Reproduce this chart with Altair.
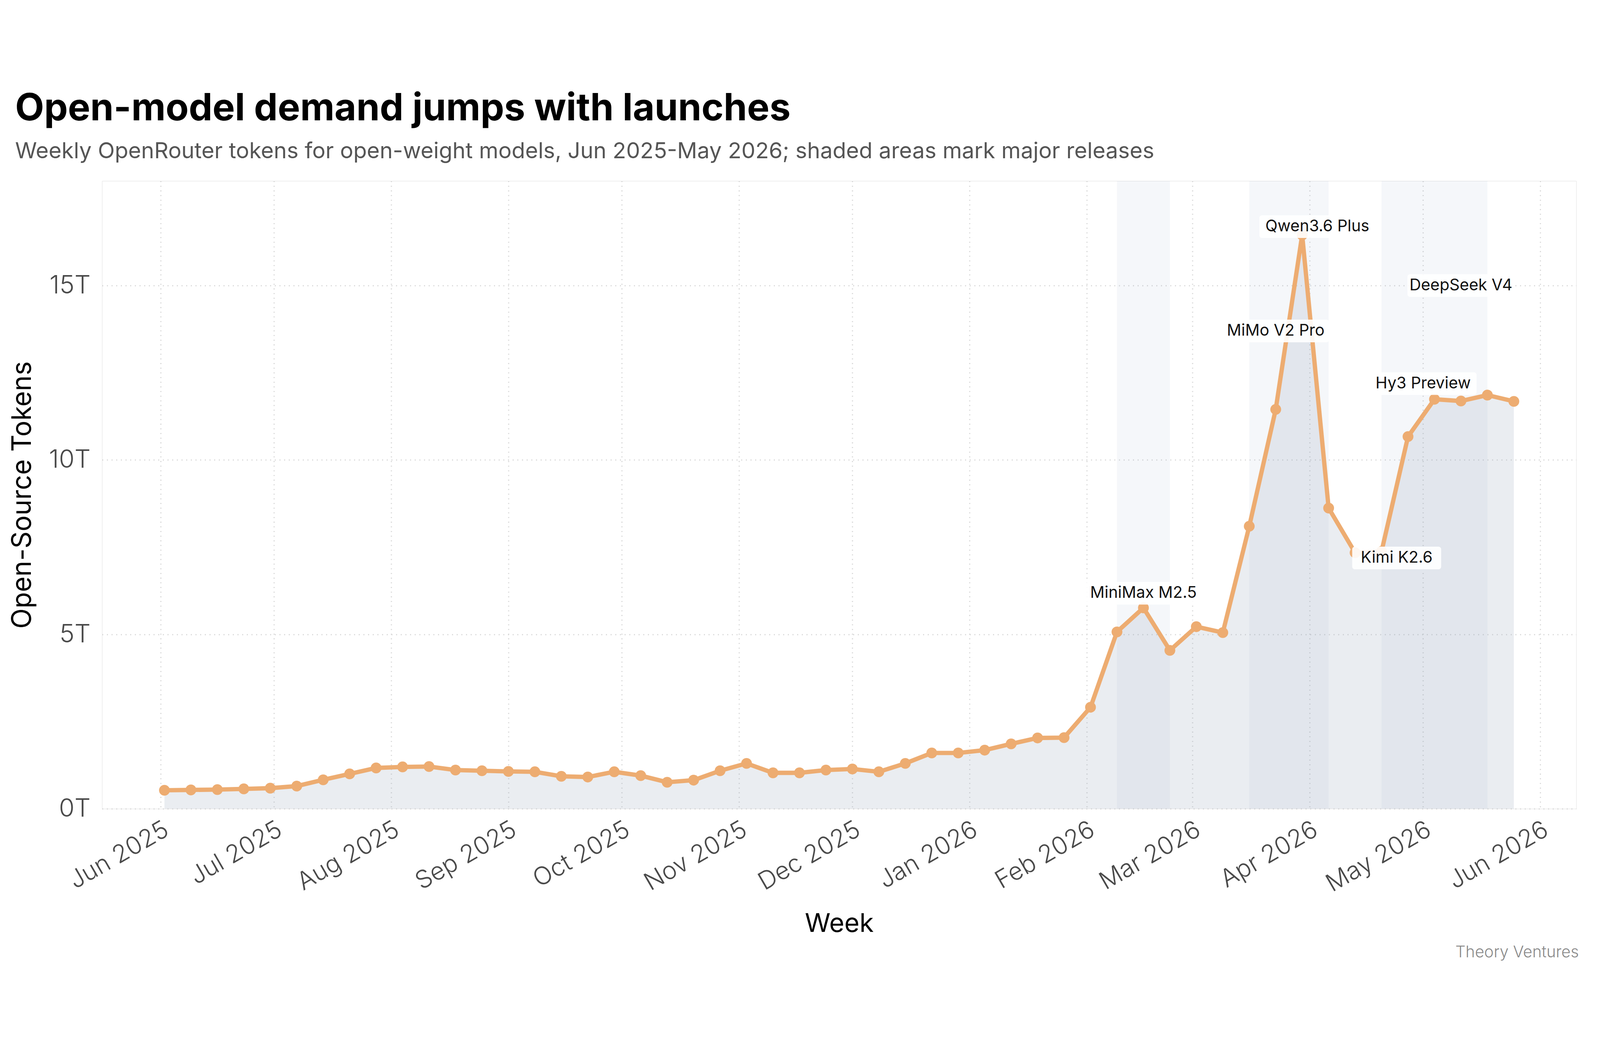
import altair as alt
import pandas as pd

# ---------------- data ----------------
weeks = [
    "2025-06-02", "2025-06-09", "2025-06-16", "2025-06-23", "2025-06-30",
    "2025-07-07", "2025-07-14", "2025-07-21", "2025-07-28",
    "2025-08-04", "2025-08-11", "2025-08-18", "2025-08-25",
    "2025-09-01", "2025-09-08", "2025-09-15", "2025-09-22", "2025-09-29",
    "2025-10-06", "2025-10-13", "2025-10-20", "2025-10-27",
    "2025-11-03", "2025-11-10", "2025-11-17", "2025-11-24",
    "2025-12-01", "2025-12-08", "2025-12-15", "2025-12-22", "2025-12-29",
    "2026-01-05", "2026-01-12", "2026-01-19", "2026-01-26",
    "2026-02-02", "2026-02-09", "2026-02-16", "2026-02-23",
    "2026-03-02", "2026-03-09", "2026-03-16", "2026-03-23", "2026-03-30",
    "2026-04-06", "2026-04-13", "2026-04-20", "2026-04-27",
    "2026-05-04", "2026-05-11", "2026-05-18", "2026-05-25",
]
tokens_t = [
    0.53, 0.54, 0.55, 0.57, 0.59,
    0.65, 0.83, 1.00, 1.17,
    1.20, 1.21, 1.11, 1.09,
    1.07, 1.06, 0.93, 0.91, 1.06,
    0.95, 0.76, 0.82, 1.09,
    1.30, 1.03, 1.03, 1.11,
    1.14, 1.06, 1.30, 1.60, 1.60,
    1.68, 1.86, 2.03, 2.04,
    2.91, 5.07, 5.76, 4.54,
    5.22, 5.05, 8.10, 11.45, 16.45,
    8.62, 7.34, 7.38, 10.67,
    11.74, 11.69, 11.86, 11.68,
]

band_starts = ["2026-02-09", "2026-03-16", "2026-04-20"]
band_ends = ["2026-02-23", "2026-04-06", "2026-05-18"]

label_names = ["MiniMax M2.5", "MiMo V2 Pro", "Qwen3.6 Plus", "Kimi K2.6", "Hy3 Preview", "DeepSeek V4"]
label_dates = ["2026-02-16", "2026-03-23", "2026-04-03", "2026-04-24", "2026-05-01", "2026-05-11"]
label_values = [6.18, 13.70, 16.69, 7.19, 12.19, 15.00]

y_ticks = [0, 5, 10, 15]

# ---------------- style ----------------
FONT = "Inter"
ORANGE = "#EDAC71"
SLATE = "#94a3b8"
BAND = "#6b8fbf"

series = pd.DataFrame({"week": weeks, "tokens": tokens_t})
bands = pd.DataFrame({"start": band_starts, "end": band_ends})

x_scale = alt.Scale(
    type="utc",
    domain=[
        alt.DateTime(year=2025, month=5, date=16, hours=12, utc=True),
        alt.DateTime(year=2026, month=6, date=10, hours=12, utc=True),
    ],
)
y_scale = alt.Scale(domain=[0, 18], nice=False, zero=True)

grid_kw = dict(grid=True, gridColor="#d6d6d6", gridDash=[3, 11], gridWidth=3.5)

x_axis = alt.Axis(
    title="Week",
    labelExpr="utcFormat(datum.value, '%b %Y')",
    tickCount={"interval": "month", "step": 1},
    labelAngle=330,
    labelAlign="right",
    labelBaseline="top",
    labelPadding=26,
    labelLimit=2000,
    labelFont=FONT,
    labelFontSize=74,
    labelFontWeight=300,
    labelColor="#4a4a4a",
    labelFlush=False,
    labelOverlap=False,
    ticks=False,
    tickSize=0,
    domain=False,
    titleFont=FONT,
    titleFontSize=78,
    titleFontWeight=400,
    titleColor="#000000",
    titleBaseline="alphabetic",
    titleY=369,
    **grid_kw,
)
y_axis = alt.Axis(
    title="Open-Source Tokens",
    values=y_ticks,
    labelExpr="datum.value + 'T'",
    labelPadding=35,
    labelLimit=2000,
    labelFont=FONT,
    labelFontSize=76,
    labelFontWeight=300,
    labelColor="#4a4a4a",
    ticks=False,
    tickSize=0,
    domain=False,
    titleFont=FONT,
    titleFontSize=80,
    titleFontWeight=400,
    titleColor="#000000",
    titleBaseline="alphabetic",
    titleX=-214,
    **grid_kw,
)

X = lambda f: alt.X(f, type="temporal", scale=x_scale, axis=x_axis)
Y = lambda f: alt.Y(f, type="quantitative", scale=y_scale, axis=y_axis)

band_layer = alt.Chart(bands).mark_rect(color=BAND, opacity=0.07).encode(
    x=X("start"), x2="end:T"
)
area_layer = alt.Chart(series).mark_area(color=SLATE, opacity=0.2).encode(
    x=X("week"), y=Y("tokens")
)
line_layer = alt.Chart(series).mark_line(color=ORANGE, strokeWidth=13).encode(
    x=X("week"), y=Y("tokens")
)
point_layer = alt.Chart(series).mark_circle(color=ORANGE, size=1050, opacity=1).encode(
    x=X("week"), y=Y("tokens")
)

layers = [band_layer, area_layer, line_layer, point_layer]

# label boxes (one per label, width from text length)
for name, d, v in zip(label_names, label_dates, label_values):
    df = pd.DataFrame({"name": [name], "date": [d], "value": [v]})
    box_w = 27 * len(name) + 24
    layers.append(
        alt.Chart(df)
        .mark_rect(color="white", opacity=0.9, width=box_w, height=68, cornerRadius=8)
        .encode(x=X("date"), y=Y("value"))
    )

labels = pd.DataFrame({"name": label_names, "date": label_dates, "value": label_values})
layers.append(
    alt.Chart(labels)
    .mark_text(font=FONT, fontSize=48, color="#111111", align="center", baseline="middle")
    .encode(x=X("date"), y=Y("value"), text="name:N")
)

# source caption, anchored to the plot's bottom-right corner
caption = (
    alt.Chart(pd.DataFrame({"t": ["Theory Ventures"]}))
    .mark_text(font=FONT, fontSize=48, fontWeight=300, color="#8a8a8a",
               align="right", baseline="alphabetic", dx=8, dy=446)
    .encode(x=alt.value("width"), y=alt.value("height"), text="t:N")
)
layers.append(caption)

chart = (
    alt.layer(*layers)
    .properties(
        width=4784,
        height=2684,
        autosize=alt.AutoSizeParams(type="fit", contains="padding"),
        padding={"left": 19, "top": 30, "right": 54, "bottom": 42},
        title=alt.TitleParams(
            text="Open-model demand jumps with launches",
            subtitle="Weekly OpenRouter tokens for open-weight models, Jun 2025-May 2026; shaded areas mark major releases",
            anchor="start",
            frame="group",
            dx=-261,
            offset=54,
            font=FONT,
            fontSize=113,
            fontWeight=700,
            color="#000000",
            subtitleFont=FONT,
            subtitleFontSize=66.4,
            subtitleFontWeight=400,
            subtitleColor="#555555",
            subtitlePadding=37,
        ),
    )
    .configure_view(stroke=None)
    .configure(background="white")
)

chart.save("out.html", embed_options={"renderer": "svg", "actions": False})
